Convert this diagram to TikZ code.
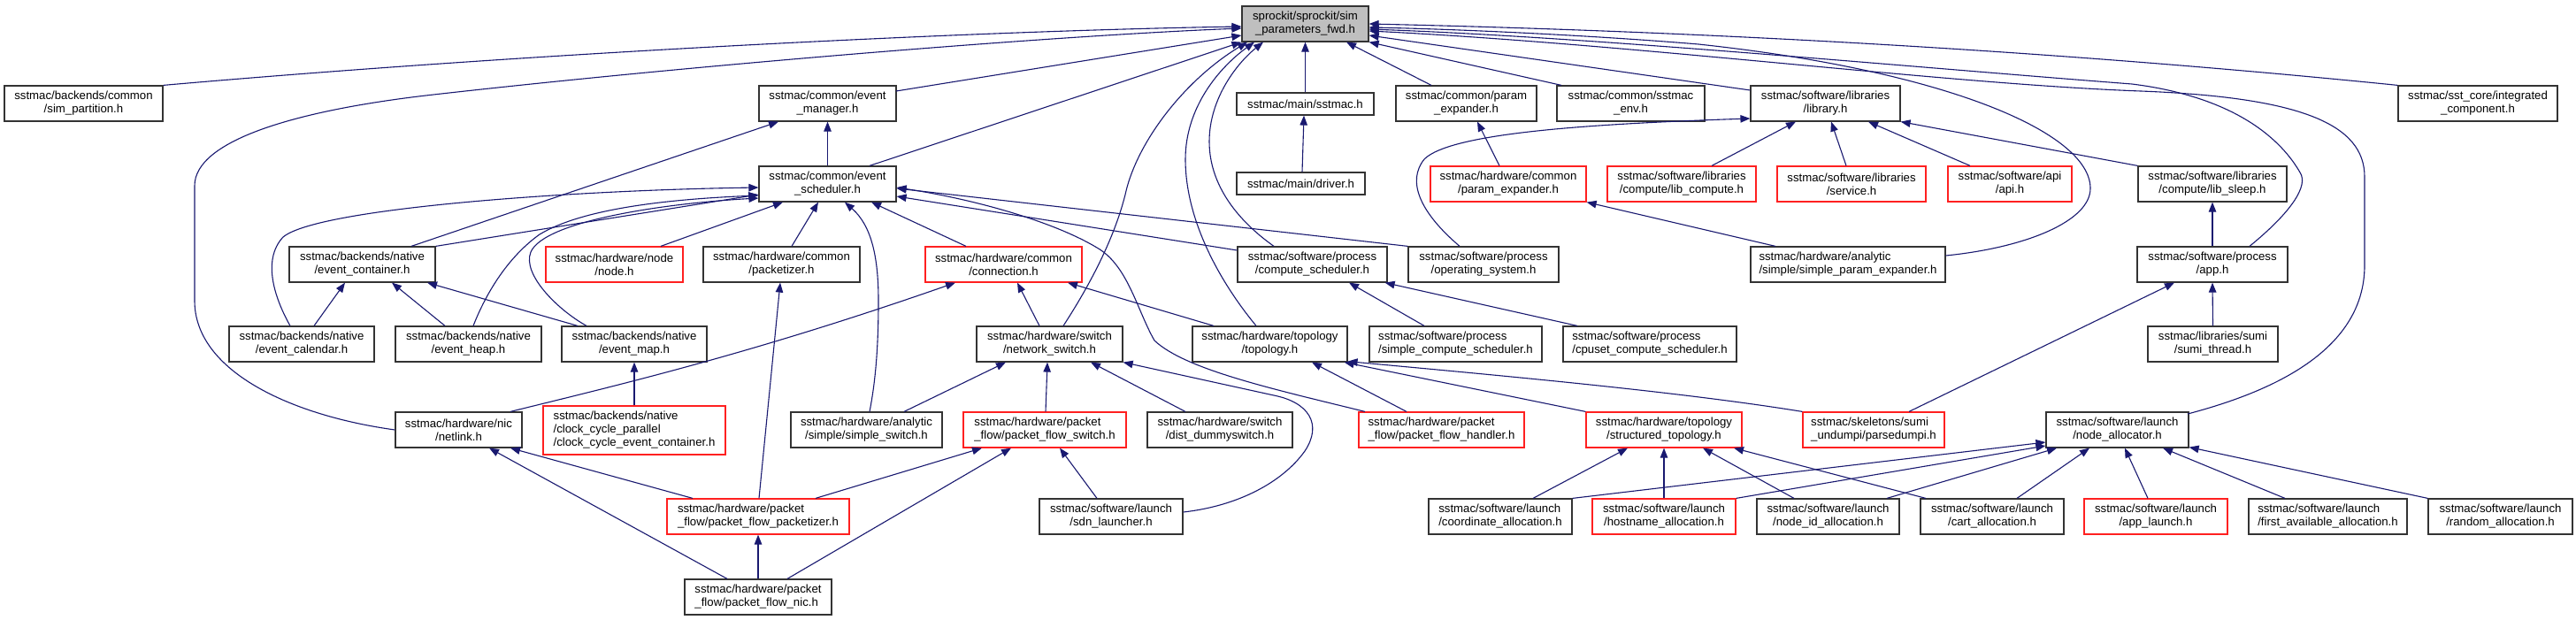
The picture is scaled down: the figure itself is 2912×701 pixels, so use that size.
\documentclass[tikz,border=0pt]{standalone}
\usepackage{fontspec}
\setmainfont{Liberation Sans}
\usetikzlibrary{arrows.meta}
\definecolor{edgec}{HTML}{191970}
\definecolor{nodeb}{HTML}{333333}
\definecolor{redb}{HTML}{FF2020}
\definecolor{rootf}{HTML}{BFBFBF}
\begin{document}
\begin{tikzpicture}[x=1pt,y=-1pt,
  nd/.style={draw=nodeb, line width=1.2pt, rectangle, inner sep=0pt, align=center,
    minimum height=40pt, text=black, font=\fontsize{13.2pt}{15pt}\selectfont},
  rd/.style={nd, draw=redb},
  lft/.style={align=left},
  e/.style={draw=edgec, line width=1.1pt, -{Triangle[length=11pt,width=8.5pt]}}]
\fill[white] (0,0) rectangle (2912,701);
\useasboundingbox (0,0) rectangle (2912,701);
% row 0
\node[nd, minimum width=143pt, fill=rootf] (root) at (1475.5,27) {sprockit/sprockit/sim\\\_parameters\_fwd.h};
% row 1
\node[nd, minimum width=179pt] (simpart) at (94.5,117) {sstmac/backends/common\\/sim\_partition.h};
\node[nd, minimum width=155pt] (evmgr) at (935.5,117) {sstmac/common/event\\\_manager.h};
\node[nd, minimum width=155pt, minimum height=25pt] (sstmach) at (1475.5,117.5) {sstmac/main/sstmac.h};
\node[nd, minimum width=159pt] (cparam) at (1657.5,117) {sstmac/common/param\\\_expander.h};
\node[nd, minimum width=167pt] (env) at (1843.5,117) {sstmac/common/sstmac\\\_env.h};
\node[nd, minimum width=169pt] (library) at (2063.5,117) {sstmac/software/libraries\\/library.h};
\node[nd, minimum width=180pt] (integ) at (2801,117) {sstmac/sst\_core/integrated\\\_component.h};
% row 2
\node[nd, minimum width=155pt] (evsched) at (935.5,208) {sstmac/common/event\\\_scheduler.h};
\node[nd, minimum width=145pt, minimum height=25pt] (driver) at (1470.5,207.5) {sstmac/main/driver.h};
\node[rd, minimum width=176pt] (hwparam) at (1705,208) {sstmac/hardware/common\\/param\_expander.h};
\node[rd, minimum width=168pt] (libcomp) at (1901,208) {sstmac/software/libraries\\/compute/lib\_compute.h};
\node[rd, minimum width=168pt] (service) at (2093,208) {sstmac/software/libraries\\/service.h};
\node[rd, minimum width=140pt] (api) at (2272,208) {sstmac/software/api\\/api.h};
\node[nd, minimum width=168pt] (libsleep) at (2501,208) {sstmac/software/libraries\\/compute/lib\_sleep.h};
% row 3
\node[nd, minimum width=165pt] (evcont) at (409.5,299) {sstmac/backends/native\\/event\_container.h};
\node[rd, minimum width=155pt] (node) at (694.5,299) {sstmac/hardware/node\\/node.h};
\node[nd, minimum width=177pt] (packetizer) at (883.5,299) {sstmac/hardware/common\\/packetizer.h};
\node[rd, minimum width=177pt] (conn) at (1134.5,299) {sstmac/hardware/common\\/connection.h};
\node[nd, minimum width=169pt] (compsched) at (1483.5,299) {sstmac/software/process\\/compute\_scheduler.h};
\node[nd, minimum width=170pt] (os) at (1677,299) {sstmac/software/process\\/operating\_system.h};
\node[nd, lft, minimum width=220pt] (simpleparam) at (2089,299) {sstmac/hardware/analytic\\/simple/simple\_param\_expander.h};
\node[nd, minimum width=170pt] (app) at (2501,299) {sstmac/software/process\\/app.h};
% row 4
\node[nd, minimum width=164pt] (evcal) at (341,389) {sstmac/backends/native\\/event\_calendar.h};
\node[nd, minimum width=165pt] (evheap) at (529.5,389) {sstmac/backends/native\\/event\_heap.h};
\node[nd, minimum width=164pt] (evmap) at (717,389) {sstmac/backends/native\\/event\_map.h};
\node[nd, minimum width=165pt] (netsw) at (1186.5,389) {sstmac/hardware/switch\\/network\_switch.h};
\node[nd, minimum width=175pt] (topo) at (1435.5,389) {sstmac/hardware/topology\\/topology.h};
\node[nd, lft, minimum width=195pt] (simplecs) at (1645.5,389) {sstmac/software/process\\/simple\_compute\_scheduler.h};
\node[nd, lft, minimum width=196pt] (cpuset) at (1865,389) {sstmac/software/process\\/cpuset\_compute\_scheduler.h};
\node[nd, minimum width=147pt] (sumi) at (2501.5,389) {sstmac/libraries/sumi\\/sumi\_thread.h};
% row 5
\node[nd, minimum width=143pt] (netlink) at (518.5,486) {sstmac/hardware/nic\\/netlink.h};
\node[rd, lft, minimum width=206pt, minimum height=55pt] (clock) at (717,486.5) {sstmac/backends/native\\/clock\_cycle\_parallel\\/clock\_cycle\_event\_container.h};
\node[nd, minimum width=171pt] (simplesw) at (979.5,486) {sstmac/hardware/analytic\\/simple/simple\_switch.h};
\node[rd, lft, minimum width=184pt] (pfswitch) at (1181,486) {sstmac/hardware/packet\\\_flow/packet\_flow\_switch.h};
\node[nd, minimum width=164pt] (dummy) at (1379,486) {sstmac/hardware/switch\\/dist\_dummyswitch.h};
\node[rd, lft, minimum width=187pt] (pfhandler) at (1629.5,486) {sstmac/hardware/packet\\\_flow/packet\_flow\_handler.h};
\node[rd, minimum width=176pt] (structtopo) at (1881,486) {sstmac/hardware/topology\\/structured\_topology.h};
\node[rd, lft, minimum width=160pt] (parsedumpi) at (2118,486) {sstmac/skeletons/sumi\\\_undumpi/parsedumpi.h};
\node[nd, minimum width=161pt] (nodealloc) at (2393.5,486) {sstmac/software/launch\\/node\_allocator.h};
% row 6
\node[rd, lft, minimum width=206pt] (pfpack) at (857,584) {sstmac/hardware/packet\\\_flow/packet\_flow\_packetizer.h};
\node[nd, minimum width=162pt] (sdn) at (1256,584) {sstmac/software/launch\\/sdn\_launcher.h};
\node[nd, lft, minimum width=162pt] (coord) at (1696,584) {sstmac/software/launch\\/coordinate\_allocation.h};
\node[rd, minimum width=162pt] (hostname) at (1881,584) {sstmac/software/launch\\/hostname\_allocation.h};
\node[nd, minimum width=161pt] (nodeid) at (2066.5,584) {sstmac/software/launch\\/node\_id\_allocation.h};
\node[nd, minimum width=162pt] (cart) at (2252,584) {sstmac/software/launch\\/cart\_allocation.h};
\node[rd, minimum width=162pt] (applaunch) at (2437,584) {sstmac/software/launch\\/app\_launch.h};
\node[nd, lft, minimum width=179pt] (firstavail) at (2631.5,584) {sstmac/software/launch\\/first\_available\_allocation.h};
\node[nd, minimum width=163pt] (random) at (2826.5,584) {sstmac/software/launch\\/random\_allocation.h};
% row 7
\node[nd, lft, minimum width=166pt] (pfnic) at (857,675) {sstmac/hardware/packet\\\_flow/packet\_flow\_nic.h};

% ---- edges into root
\draw[e] (simpart.north east) .. controls (600,60) and (1100,35) .. ([yshift=-3pt]root.west);
\draw[e] (netlink.west) .. controls (330,470) and (220,420) .. (220,340) -- (220,210)
  .. controls (220,160) and (330,125) .. (490,107) .. controls (800,72) and (1200,40) .. ([yshift=-5pt]root.west);
\draw[e] ([shift={(77.5,-14)}]evmgr.center) -- ([yshift=-13pt]root.west);
\draw[e] ([xshift=47.5pt]evsched.north) -- (root.south west);
\draw[e] ([xshift=15.5pt]netsw.north) .. controls (1240,310) and (1262,260) .. (1272,220)
  .. controls (1285,160) and (1340,90) .. ([xshift=-65.5pt]root.south);
\draw[e] ([xshift=-15.5pt]topo.north) .. controls (1380,320) and (1340,250) .. (1340,180)
  .. controls (1340,120) and (1380,75) .. ([xshift=-57.5pt]root.south);
\draw[e] ([xshift=-43.5pt]compsched.north) .. controls (1400,250) and (1367,210) .. (1367,160)
  .. controls (1367,110) and (1400,70) .. ([xshift=-47.5pt]root.south);
\draw[e] (sstmach.north) -- (root.south);
\draw[e] ([xshift=-39.5pt]cparam.north) -- ([xshift=46.5pt]root.south);
\draw[e] ([xshift=-78.5pt]env.north) -- (root.south east);
\draw[e] ([yshift=15pt]library.west) -- ([yshift=-13pt]root.east);
\draw[e] (integ.north west) .. controls (2300,55) and (1900,35) .. (root.east);
\draw[e] ([yshift=10pt]simpleparam.east) .. controls (2290,280) and (2363,250) .. (2363,213)
  .. controls (2363,150) and (2200,80) .. (1920,50) .. controls (1800,40) and (1650,33) .. ([yshift=-4pt]root.east);
\draw[e] ([xshift=42pt]app.north) .. controls (2590,240) and (2610,210) .. (2600,195)
  .. controls (2580,160) and (2530,110) .. (2410,95) .. controls (2150,75) and (1800,42) .. ([yshift=-6pt]root.east);
\draw[e] ([shift={(79.5,-18)}]nodealloc.center) .. controls (2560,445) and (2673,400) .. (2673,300) -- (2673,200)
  .. controls (2673,140) and (2600,110) .. (2420,103) .. controls (2200,95) and (1850,50) .. ([yshift=-8pt]root.east);

% ---- event manager
\draw[e] (evsched.north) -- (evmgr.south);
\draw[e] ([xshift=55.5pt]evcont.north) -- ([xshift=-55.5pt]evmgr.south);

% ---- event scheduler
\draw[e] ([xshift=-13pt]evcal.north) .. controls (312,340) and (295,295) .. (320,268)
  .. controls (360,235) and (650,215) .. ([yshift=-4pt]evsched.west);
\draw[e] (evcont.north east) -- ([yshift=-12pt]evsched.west);
\draw[e] ([xshift=5.5pt]evheap.north) .. controls (550,330) and (575,290) .. (610,265)
  .. controls (660,235) and (760,225) .. ([yshift=-13pt]evsched.west);
\draw[e] ([xshift=-54pt]evmap.north) .. controls (630,350) and (590,310) .. (600,285)
  .. controls (615,250) and (750,230) .. ([yshift=-16pt]evsched.west);
\draw[e] ([xshift=52.5pt]node.north) -- ([xshift=-50.5pt]evsched.south);
\draw[e] ([xshift=11.5pt]packetizer.north) -- ([xshift=-10.5pt]evsched.south);
\draw[e] ([xshift=3.5pt]simplesw.north) .. controls (990,430) and (993,390) .. (993,340)
  .. controls (993,290) and (985,255) .. ([xshift=19.5pt]evsched.south);
\draw[e] ([xshift=-42.5pt]conn.north) -- ([xshift=49.5pt]evsched.south);
\draw[e] ([yshift=16pt]compsched.west) -- ([yshift=-14pt]evsched.east);
\draw[e] (os.north west) -- ([yshift=-5pt]evsched.east);
\draw[e] ([xshift=-86.5pt]pfhandler.north) .. controls (1440,440) and (1340,418) .. (1305,385)
  .. controls (1285,350) and (1275,300) .. (1240,280) .. controls (1190,250) and (1100,225) .. ([yshift=-4pt]evsched.east);

% ---- event container
\draw[e] ([xshift=14pt]evcal.north) -- ([xshift=-19.5pt]evcont.south);
\draw[e] ([xshift=-26.5pt]evheap.north) -- ([xshift=33.5pt]evcont.south);
\draw[e] ([xshift=-64pt]evmap.north) -- ([xshift=73.5pt]evcont.south);
\draw[e] (clock.north) -- (evmap.south);

% ---- connection
\draw[e] ([xshift=58.5pt]netlink.north) .. controls (700,435) and (850,400) .. ([xshift=-54.5pt]conn.south);
\draw[e] ([xshift=-11.5pt]netsw.north) -- ([xshift=15.5pt]conn.south);
\draw[e] ([xshift=-63.5pt]topo.north) -- ([xshift=72.5pt]conn.south);

% ---- compute scheduler, params, main
\draw[e] ([xshift=-35.5pt]simplecs.north) -- ([xshift=41.5pt]compsched.south);
\draw[e] ([xshift=-82pt]cpuset.north) -- ([xshift=-3pt]compsched.south east);
\draw[e] ([xshift=-10pt]hwparam.north) -- ([xshift=12.5pt]cparam.south);
\draw[e] ([xshift=-82pt]simpleparam.north) -- (hwparam.south east);
\draw[e] ([xshift=1.5pt]driver.north) -- ([xshift=-1.5pt]sstmach.south);

% ---- library
\draw[e] ([xshift=34pt]libcomp.north) -- ([xshift=-33.5pt]library.south);
\draw[e] ([xshift=-6pt]service.north) -- ([xshift=6.5pt]library.south);
\draw[e] ([xshift=-45pt]api.north) -- ([xshift=48.5pt]library.south);
\draw[e] (libsleep.north west) -- (library.south east);
\draw[e] ([xshift=-27pt]os.north) .. controls (1605,240) and (1590,205) .. (1610,180)
  .. controls (1640,150) and (1800,140) .. ([yshift=-17pt]library.west);

% ---- app
\draw[e] (app.north) -- (libsleep.south);
\draw[e] (sumi.north) -- (app.south);
\draw[e] ([xshift=40pt]parsedumpi.north) -- ([xshift=-43pt]app.south);

% ---- topology
\draw[e] ([xshift=-39.5pt]pfhandler.north) -- ([xshift=47.5pt]topo.south);
\draw[e] (structtopo.north west) -- ([xshift=-4pt]topo.south east);
\draw[e] (parsedumpi.north west) .. controls (1900,443) and (1700,425) .. ([yshift=1pt]topo.south east);

% ---- network switch
\draw[e] ([xshift=42.5pt]simplesw.north) -- ([xshift=-49.5pt]netsw.south);
\draw[e] ([xshift=1pt]pfswitch.north) -- ([xshift=-2.5pt]netsw.south);
\draw[e] ([xshift=-39pt]dummy.north) -- ([xshift=46.5pt]netsw.south);
\draw[e] ([yshift=5pt]sdn.east) .. controls (1400,572) and (1450,545) .. (1475,510)
  .. controls (1495,480) and (1480,455) .. (1440,447) -- (netsw.south east);

% ---- packet flow switch
\draw[e] ([xshift=65pt]pfpack.north) -- ([xshift=-71pt]pfswitch.south);
\draw[e] ([xshift=33pt]pfnic.north) -- ([xshift=-38pt]pfswitch.south);
\draw[e] ([xshift=-16pt]sdn.north) -- ([xshift=17pt]pfswitch.south);

% ---- netlink
\draw[e] ([xshift=-74pt]pfpack.north) -- ([xshift=58.5pt]netlink.south);
\draw[e] ([xshift=-35pt]pfnic.north) -- ([xshift=34.5pt]netlink.south);

% ---- packetizer, packet flow packetizer
\draw[e] ([xshift=1pt]pfpack.north) -- ([xshift=-1.5pt]packetizer.south);
\draw[e] (pfnic.north) -- (pfpack.south);

% ---- structured topology
\draw[e] ([xshift=37pt]coord.north) -- ([xshift=-41pt]structtopo.south);
\draw[e] (hostname.north) -- (structtopo.south);
\draw[e] ([xshift=-38.5pt]nodeid.north) -- ([xshift=44pt]structtopo.south);
\draw[e] ([xshift=-75pt]cart.north) -- ([xshift=79pt]structtopo.south);

% ---- node allocator
\draw[e] (coord.north east) -- ([yshift=-14pt]nodealloc.west);
\draw[e] (hostname.north east) -- ([yshift=-18pt]nodealloc.west);
\draw[e] ([xshift=66.5pt]nodeid.north) -- ([xshift=-68.5pt]nodealloc.south);
\draw[e] ([xshift=28pt]cart.north) -- ([xshift=-31.5pt]nodealloc.south);
\draw[e] ([xshift=-9pt]applaunch.north) -- ([xshift=8.5pt]nodealloc.south);
\draw[e] ([xshift=-48.5pt]firstavail.north) -- ([xshift=51.5pt]nodealloc.south);
\draw[e] (random.north west) -- ([yshift=1pt]nodealloc.south east);
\end{tikzpicture}
\end{document}
